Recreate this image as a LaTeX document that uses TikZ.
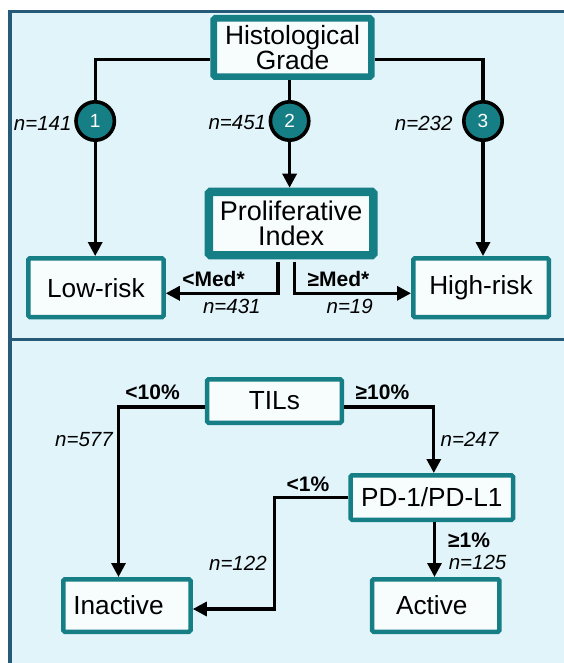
\documentclass[tikz,border=0pt]{standalone}
\usepackage{fontspec}
\setmainfont{Liberation Sans}
\usetikzlibrary{arrows.meta}
\definecolor{teal}{HTML}{167F86}
\definecolor{panelline}{HTML}{255B79}
\definecolor{panelfill}{HTML}{E1F4FA}
\definecolor{boxfill}{HTML}{F7FCFD}
\tikzset{
  box/.style={draw=teal, fill=boxfill, rounded corners=1.5pt, line width=4.5pt,
    align=center, inner sep=0pt, font=\fontsize{26.2}{24}\selectfont},
  grade/.style={circle, draw=black, fill=teal, line width=3.6pt, minimum size=38.4pt,
    inner sep=0pt, text=white, font=\fontsize{19}{19}\selectfont},
  link/.style={line width=3.2pt, line join=miter},
  arrow/.style={link, -{Triangle[length=14pt,width=14pt]}},
  count/.style={inner sep=0pt, font=\fontsize{20.5}{20.5}\selectfont\itshape},
  cutoff/.style={inner sep=0pt, font=\fontsize{21}{21}\selectfont\bfseries},
}
\begin{document}
\begin{tikzpicture}[x=1pt, y=-1pt]
\useasboundingbox (0,0) rectangle (563,663);
% panels
\fill[panelfill] (8.5,10) rectangle (580,680);
\draw[panelline, line width=3.3pt] (10,680) -- (10,11.3) -- (580,11.3);
\draw[panelline, line width=3.2pt] (10,339.5) -- (580,339.5);

% ---- upper panel: grade and proliferation ----
\node[box, line width=6.7pt, minimum width=157.7pt, minimum height=58.3pt,
  font=\fontsize{26.4}{23.5}\selectfont] (hist) at (292.5,47.5) {Histological\\Grade};
\node[grade] (c1) at (95.2,121) {1};
\node[grade] (c2) at (289.6,121) {2};
\node[grade] (c3) at (483,121) {3};
\node[box, line width=8.3pt, minimum width=164.5pt, minimum height=63.3pt,
  font=\fontsize{27}{25}\selectfont] (prolif) at (291.1,223.5) {Proliferative\\Index};
\node[box, minimum width=135.2pt, minimum height=58.8pt] (low) at (95.9,287.7) {Low-risk};
\node[box, minimum width=135.5pt, minimum height=58.8pt] (high) at (481,287.7) {High-risk};

\draw[link] ([yshift=-11.8pt]hist.west) -| (c1.north);
\draw[link] (c2.north |- hist.south) -- (c2.north);
\draw[link] ([yshift=-11.8pt]hist.east) -| (c3.north);
\draw[arrow] (c1.south) -- (c1.south |- low.north);
\draw[arrow] (c2.south) -- (c2.south |- prolif.north);
\draw[arrow] (c3.south) -- (c3.south |- high.north);
\draw[arrow, shorten <=2.4pt] ([xshift=-13.1pt]prolif.south) |- ([yshift=-5.6pt]low.east);
\draw[arrow, shorten <=2.4pt] ([xshift=3.6pt]prolif.south) |- ([yshift=-5.6pt]high.west);

\node[count, anchor=east] (n1) at (71.7,123) {n=141};
\node[count, anchor=east] (n2) at (266.3,123) {n=451};
\node[count, anchor=east] (n3) at (452.7,123) {n=232};
\node[cutoff] (lmed) at (213.5,279.3) {<Med*};
\node[count] (nlow) at (231.8,306.7) {n=431};
\node[cutoff] (hmed) at (338.5,279.3) {≥Med*};
\node[count] (nhigh) at (349.7,306.7) {n=19};

% ---- lower panel: immune activity ----
\node[box, minimum width=134.8pt, minimum height=43.5pt] (tils) at (274.4,401) {TILs};
\node[box, minimum width=162.5pt, minimum height=44.5pt] (pd) at (431.8,497.5) {PD-1/PD-L1};
\node[box, minimum width=127.3pt, minimum height=52.5pt] (inact) at (126.9,605.5) {Inactive\hspace{16.8pt}};
\node[box, minimum width=127.3pt, minimum height=52.5pt] (act) at (435.7,605.5) {Active\hspace{7.8pt}};
\coordinate (bend) at (274.7,497.5);

\draw[arrow] ([yshift=-6pt]tils.west) -| ([xshift=-8.4pt]inact.north);
\draw[arrow] ([yshift=-6pt]tils.east) -| ([xshift=2pt]pd.north);
\draw[arrow] (pd.west) -- (bend) |- ([yshift=-3.5pt]inact.east);
\draw[arrow] ([xshift=2.7pt]pd.south) -- ([xshift=2.7pt]pd.south |- act.north);

\node[cutoff] (lt) at (152.6,392) {<10\%};
\node[count] (nlt) at (84,440) {n=577};
\node[cutoff] (ht) at (382.4,392) {≥10\%};
\node[count] (nht) at (469.5,439) {n=247};
\node[cutoff] (lp) at (308,484) {<1\%};
\node[count] (nlp) at (237.9,563) {n=122};
\node[cutoff] (hp) at (469,540) {≥1\%};
\node[count] (nhp) at (477.6,562) {n=125};
\end{tikzpicture}
\end{document}
